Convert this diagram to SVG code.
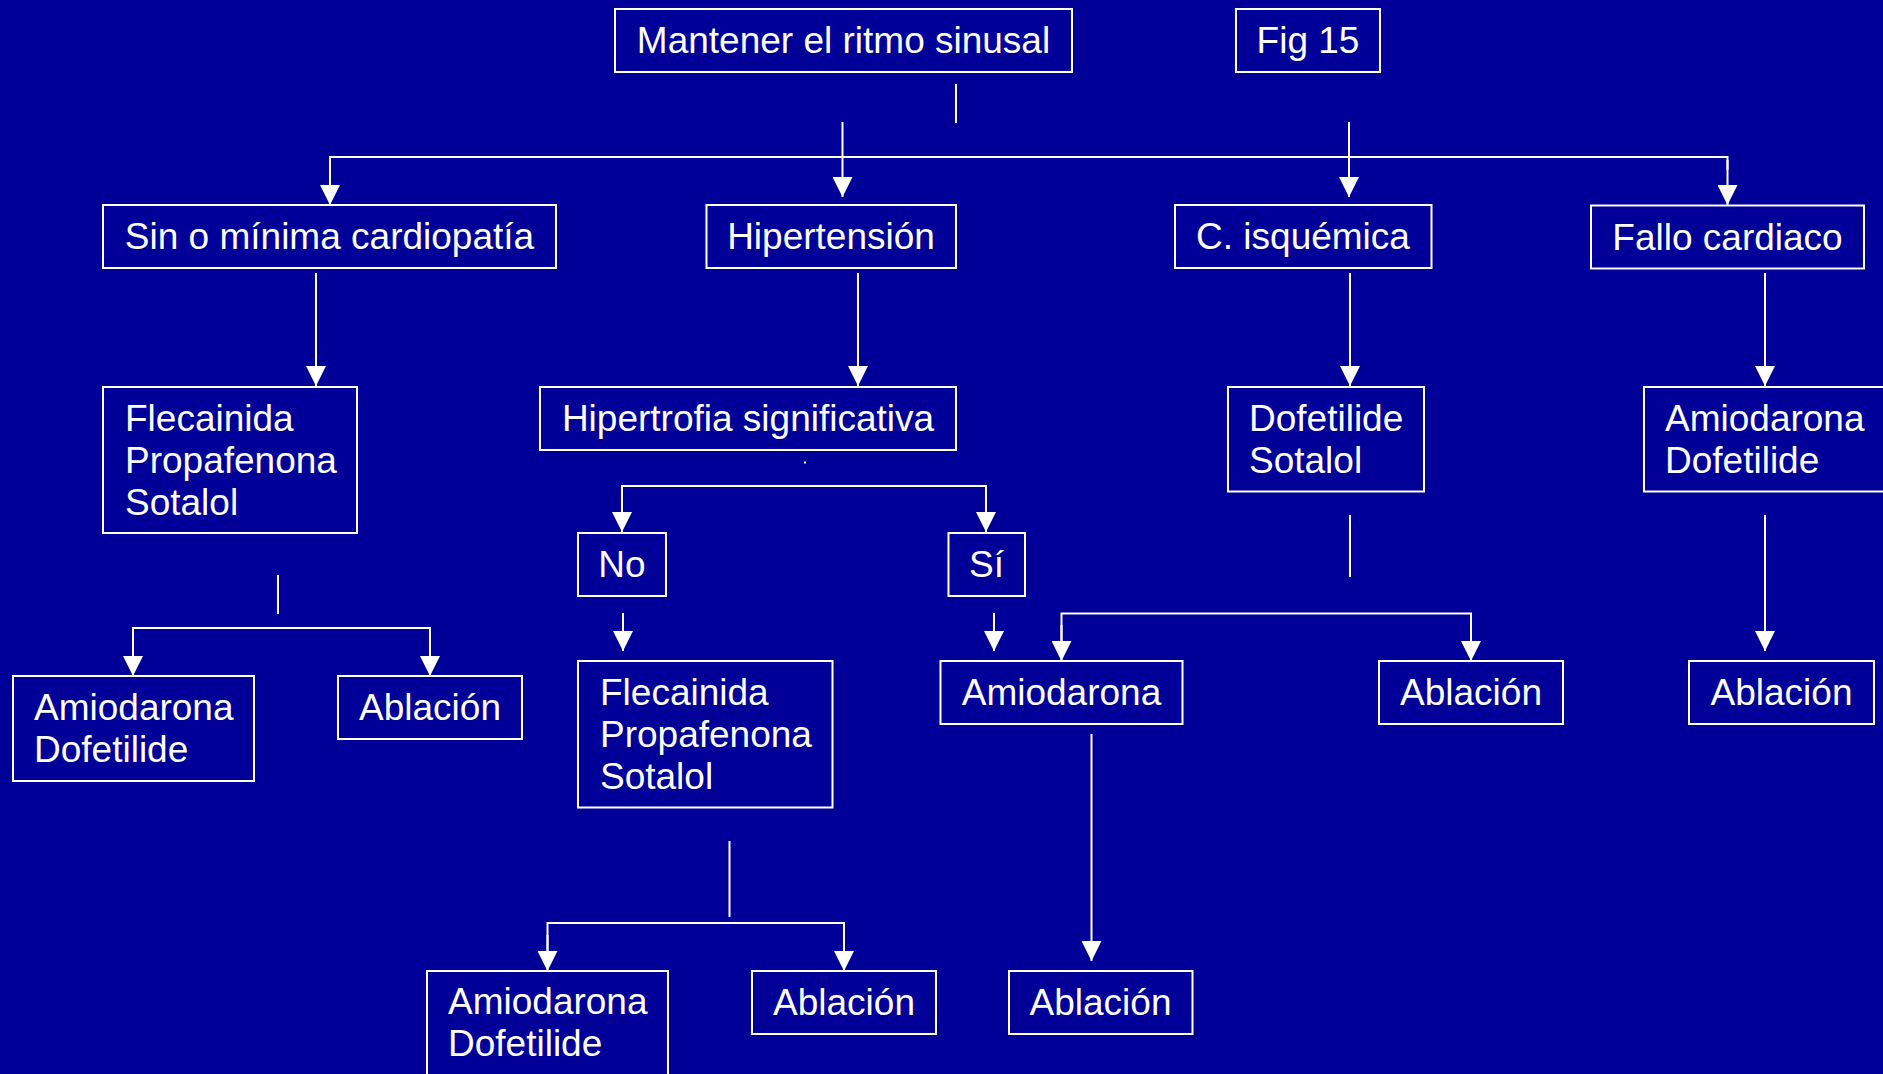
<svg xmlns="http://www.w3.org/2000/svg" width="1883" height="1074" viewBox="0 0 1883 1074">
  <style>
    .box { fill: none; stroke: #ffffff; stroke-width: 2; }
    .lbl { font-family: "Liberation Sans", Arial, sans-serif; font-size: 37px; fill: #ffffff; }
    .c { text-anchor: middle; }
    .wire { fill: none; stroke: #ffffff; stroke-width: 2; }
    .arrow { fill: none; stroke: #ffffff; stroke-width: 2; marker-end: url(#head); }
  </style>
  <defs>
    <marker id="head" markerUnits="userSpaceOnUse" markerWidth="20" markerHeight="20" refX="20" refY="10" orient="auto">
      <path d="M0,0 L20,10 L0,20 z" fill="#ffffff"/>
    </marker>
  </defs>

  <rect width="1883" height="1074" fill="#000099"/>

  <!-- connectors -->
  <g id="connectors">
    <!-- top level split -->
    <line class="wire" x1="956" y1="84" x2="956" y2="123"/>
    <polyline class="wire" points="330,170 330,157 1727.5,157 1727.5,170"/>
    <line class="arrow" x1="330" y1="160" x2="330" y2="205"/>
    <line class="arrow" x1="1727.5" y1="160" x2="1727.5" y2="205"/>
    <line class="arrow" x1="842.5" y1="122" x2="842.5" y2="197"/>
    <line class="arrow" x1="1349" y1="122" x2="1349" y2="197"/>

    <!-- second level -->
    <line class="arrow" x1="316" y1="273" x2="316" y2="386"/>
    <line class="arrow" x1="858" y1="273" x2="858" y2="386"/>
    <line class="arrow" x1="1350" y1="273" x2="1350" y2="386"/>
    <line class="arrow" x1="1765" y1="273" x2="1765" y2="386"/>

    <rect x="804" y="461.5" width="2" height="2" fill="#ffffff"/>

    <!-- hypertrophy branch -->
    <polyline class="wire" points="622,512 622,486 986,486 986,512"/>
    <line class="arrow" x1="622" y1="500" x2="622" y2="532"/>
    <line class="arrow" x1="986" y1="500" x2="986" y2="532"/>
    <line class="arrow" x1="623" y1="613" x2="623" y2="651"/>
    <line class="arrow" x1="994" y1="613" x2="994" y2="651"/>

    <!-- left column branch -->
    <line class="wire" x1="278" y1="575" x2="278" y2="614"/>
    <polyline class="wire" points="133,660 133,628 430,628 430,660"/>
    <line class="arrow" x1="133" y1="640" x2="133" y2="676"/>
    <line class="arrow" x1="430" y1="640" x2="430" y2="676"/>

    <!-- ischaemic branch -->
    <line class="wire" x1="1350" y1="515" x2="1350" y2="577"/>
    <polyline class="wire" points="1061.5,645 1061.5,613.5 1471,613.5 1471,645"/>
    <line class="arrow" x1="1061.5" y1="625" x2="1061.5" y2="661"/>
    <line class="arrow" x1="1471" y1="625" x2="1471" y2="661"/>
    <line class="arrow" x1="1765" y1="515" x2="1765" y2="651"/>

    <line class="arrow" x1="1091.5" y1="734" x2="1091.5" y2="961"/>

    <!-- "No" lower branch -->
    <line class="wire" x1="729.5" y1="841" x2="729.5" y2="917"/>
    <polyline class="wire" points="547.5,955 547.5,923 844,923 844,955"/>
    <line class="arrow" x1="547.5" y1="935" x2="547.5" y2="971"/>
    <line class="arrow" x1="844" y1="935" x2="844" y2="971"/>
  </g>

  <!-- nodes -->
  <g id="n-mantener">
    <rect class="box" x="615" y="9" width="457" height="63"/>
    <text class="lbl c" x="843.5" y="53">Mantener el ritmo sinusal</text>
  </g>
  <g id="n-fig">
    <rect class="box" x="1236" y="9" width="144" height="63"/>
    <text class="lbl c" x="1308" y="53">Fig 15</text>
  </g>
  <g id="n-sin">
    <rect class="box" x="103" y="205" width="453" height="63"/>
    <text class="lbl c" x="329.5" y="249">Sin o mínima cardiopatía</text>
  </g>
  <g id="n-hta">
    <rect class="box" x="706.5" y="205" width="249.5" height="63"/>
    <text class="lbl c" x="831" y="249">Hipertensión</text>
  </g>
  <g id="n-isq">
    <rect class="box" x="1175" y="205" width="256.5" height="63"/>
    <text class="lbl c" x="1303" y="249">C. isquémica</text>
  </g>
  <g id="n-fallo">
    <rect class="box" x="1591" y="205.5" width="273" height="63"/>
    <text class="lbl c" x="1727.5" y="249.5">Fallo cardiaco</text>
  </g>
  <g id="n-flec1">
    <rect class="box" x="103" y="387" width="254" height="146"/>
    <text class="lbl" x="125" y="431">Flecainida</text>
    <text class="lbl" x="125" y="473">Propafenona</text>
    <text class="lbl" x="125" y="515">Sotalol</text>
  </g>
  <g id="n-hvi">
    <rect class="box" x="540" y="387" width="416" height="63"/>
    <text class="lbl c" x="748" y="431">Hipertrofia significativa</text>
  </g>
  <g id="n-dofsot">
    <rect class="box" x="1228" y="387" width="196" height="104.5"/>
    <text class="lbl" x="1249" y="431">Dofetilide</text>
    <text class="lbl" x="1249" y="473">Sotalol</text>
  </g>
  <g id="n-amiodof-fallo">
    <rect class="box" x="1644" y="387" width="260" height="104.5"/>
    <text class="lbl" x="1665" y="431">Amiodarona</text>
    <text class="lbl" x="1665" y="473">Dofetilide</text>
  </g>
  <g id="n-no">
    <rect class="box" x="578" y="533" width="88" height="63"/>
    <text class="lbl c" x="622" y="577">No</text>
  </g>
  <g id="n-si">
    <rect class="box" x="948.5" y="533" width="76.5" height="63"/>
    <text class="lbl c" x="986.5" y="577">Sí</text>
  </g>
  <g id="n-amiodof-sin">
    <rect class="box" x="13" y="676" width="241" height="105"/>
    <text class="lbl" x="34" y="719.5">Amiodarona</text>
    <text class="lbl" x="34" y="761.5">Dofetilide</text>
  </g>
  <g id="n-abl-sin">
    <rect class="box" x="338" y="676" width="184" height="63"/>
    <text class="lbl c" x="430" y="720">Ablación</text>
  </g>
  <g id="n-flec2">
    <rect class="box" x="578" y="661" width="254.5" height="146.5"/>
    <text class="lbl" x="600" y="705">Flecainida</text>
    <text class="lbl" x="600" y="747">Propafenona</text>
    <text class="lbl" x="600" y="789">Sotalol</text>
  </g>
  <g id="n-amio-si">
    <rect class="box" x="940.5" y="661" width="242" height="63"/>
    <text class="lbl c" x="1061.5" y="705">Amiodarona</text>
  </g>
  <g id="n-abl-isq">
    <rect class="box" x="1379" y="661" width="184" height="63"/>
    <text class="lbl c" x="1471" y="705">Ablación</text>
  </g>
  <g id="n-abl-fallo">
    <rect class="box" x="1689" y="661" width="185" height="63"/>
    <text class="lbl c" x="1781.5" y="705">Ablación</text>
  </g>
  <g id="n-amiodof-no">
    <rect class="box" x="427" y="971" width="241" height="120"/>
    <text class="lbl" x="448" y="1014">Amiodarona</text>
    <text class="lbl" x="448" y="1056">Dofetilide</text>
  </g>
  <g id="n-abl-no">
    <rect class="box" x="752" y="971" width="184" height="63"/>
    <text class="lbl c" x="844" y="1015">Ablación</text>
  </g>
  <g id="n-abl-si">
    <rect class="box" x="1009" y="971" width="183.5" height="63"/>
    <text class="lbl c" x="1100.5" y="1015">Ablación</text>
  </g>
</svg>
